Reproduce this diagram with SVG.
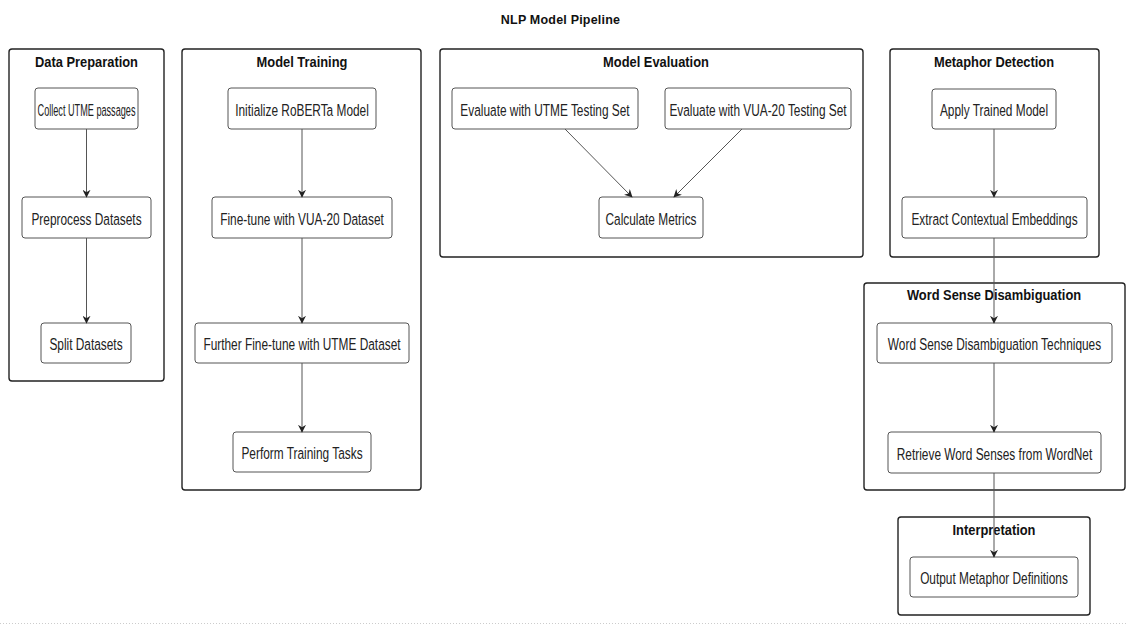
<svg xmlns="http://www.w3.org/2000/svg" width="1127" height="628" viewBox="0 0 1127 628">
  <style>
    .cluster { fill: #ffffff; stroke: #222222; stroke-width: 1.4; }
    .node { fill: #ffffff; stroke: #555555; stroke-width: 1; }
    .ctitle { font-family: "Liberation Sans", Arial, sans-serif; font-size: 14px; font-weight: bold; fill: #111111; text-anchor: middle; }
    .label { font-family: "Liberation Sans", Arial, sans-serif; font-size: 16.5px; fill: #222222; text-anchor: middle; }
    .edge { fill: none; stroke: #555555; stroke-width: 1; }
  </style>
  <defs>
    <marker id="arrow" viewBox="0 0 10 10" refX="9" refY="5" markerWidth="8" markerHeight="8" markerUnits="userSpaceOnUse" orient="auto">
      <path d="M0,0 L10,5 L0,10 L3,5 Z" fill="#222222"/>
    </marker>
  </defs>
  <rect width="1127" height="628" fill="#ffffff"/>

  <text x="560.5" y="24" class="ctitle" style="font-size:12.5px; letter-spacing:0.2px">NLP Model Pipeline</text>

  <!-- clusters -->
  <g id="cluster-data-preparation">
    <rect class="cluster" x="9" y="49" width="155" height="332" rx="3"/>
    <text class="ctitle" transform="translate(86.5,66.5) scale(0.92,1)">Data Preparation</text>
  </g>
  <g id="cluster-model-training">
    <rect class="cluster" x="182" y="49" width="239" height="441" rx="3"/>
    <text class="ctitle" transform="translate(302,66.5) scale(0.92,1)">Model Training</text>
  </g>
  <g id="cluster-model-evaluation">
    <rect class="cluster" x="440" y="49" width="423" height="208" rx="3"/>
    <text class="ctitle" transform="translate(656,66.5) scale(0.92,1)">Model Evaluation</text>
  </g>
  <g id="cluster-metaphor-detection">
    <rect class="cluster" x="890" y="49" width="209" height="208" rx="3"/>
    <text class="ctitle" transform="translate(994,66.5) scale(0.92,1)">Metaphor Detection</text>
  </g>
  <g id="cluster-wsd">
    <rect class="cluster" x="864" y="283" width="261" height="207" rx="3"/>
    <text class="ctitle" transform="translate(994,300) scale(0.92,1)">Word Sense Disambiguation</text>
  </g>
  <g id="cluster-interpretation">
    <rect class="cluster" x="898" y="517" width="192" height="98" rx="3"/>
    <text class="ctitle" transform="translate(994,535) scale(0.92,1)">Interpretation</text>
  </g>

  <!-- nodes -->
  <g id="collect">
    <rect class="node" x="35" y="88" width="103" height="41" rx="3"/>
    <text class="label" transform="translate(86.5,115.5) scale(0.72,1)" textLength="136" lengthAdjust="spacingAndGlyphs">Collect UTME passages</text>
  </g>
  <g id="preprocess">
    <rect class="node" x="22" y="197" width="129" height="41" rx="3"/>
    <text class="label" transform="translate(86.5,224.5) scale(0.72,1)">Preprocess Datasets</text>
  </g>
  <g id="split">
    <rect class="node" x="41" y="323" width="90" height="40" rx="3"/>
    <text class="label" transform="translate(86,350) scale(0.72,1)">Split Datasets</text>
  </g>

  <g id="init-roberta">
    <rect class="node" x="228" y="88" width="148" height="41" rx="3"/>
    <text class="label" transform="translate(302,115.5) scale(0.72,1)">Initialize RoBERTa Model</text>
  </g>
  <g id="finetune-vua">
    <rect class="node" x="212" y="197" width="180" height="41" rx="3"/>
    <text class="label" transform="translate(302,224.5) scale(0.72,1)">Fine-tune with VUA-20 Dataset</text>
  </g>
  <g id="finetune-utme">
    <rect class="node" x="195" y="323" width="214" height="40" rx="3"/>
    <text class="label" transform="translate(302,350) scale(0.72,1)">Further Fine-tune with UTME Dataset</text>
  </g>
  <g id="training-tasks">
    <rect class="node" x="233" y="432" width="138" height="40" rx="3"/>
    <text class="label" transform="translate(302,459) scale(0.72,1)">Perform Training Tasks</text>
  </g>

  <g id="eval-utme">
    <rect class="node" x="452" y="88" width="186" height="41" rx="3"/>
    <text class="label" transform="translate(545,115.5) scale(0.72,1)">Evaluate with UTME Testing Set</text>
  </g>
  <g id="eval-vua">
    <rect class="node" x="665" y="88" width="186" height="41" rx="3"/>
    <text class="label" transform="translate(758,115.5) scale(0.72,1)">Evaluate with VUA-20 Testing Set</text>
  </g>
  <g id="metrics">
    <rect class="node" x="599" y="197" width="104" height="41" rx="3"/>
    <text class="label" transform="translate(651,224.5) scale(0.72,1)">Calculate Metrics</text>
  </g>

  <g id="apply-model">
    <rect class="node" x="932" y="89" width="124" height="40" rx="3"/>
    <text class="label" transform="translate(994,116) scale(0.72,1)">Apply Trained Model</text>
  </g>
  <g id="embeddings">
    <rect class="node" x="902" y="197" width="185" height="41" rx="3"/>
    <text class="label" transform="translate(994.5,224.5) scale(0.72,1)">Extract Contextual Embeddings</text>
  </g>

  <g id="wsd-techniques">
    <rect class="node" x="877" y="323" width="235" height="40" rx="3"/>
    <text class="label" transform="translate(994.5,350) scale(0.72,1)">Word Sense Disambiguation Techniques</text>
  </g>
  <g id="wordnet">
    <rect class="node" x="888" y="432" width="213" height="41" rx="3"/>
    <text class="label" transform="translate(994.5,459.5) scale(0.72,1)">Retrieve Word Senses from WordNet</text>
  </g>

  <g id="definitions">
    <rect class="node" x="910" y="557" width="168" height="40" rx="3"/>
    <text class="label" transform="translate(994,584) scale(0.72,1)">Output Metaphor Definitions</text>
  </g>

  <!-- connectors -->
  <g id="edges">
    <path class="edge" d="M86.5,129 L86.5,197" marker-end="url(#arrow)"/>
    <path class="edge" d="M86.5,238 L86.5,323" marker-end="url(#arrow)"/>
    <path class="edge" d="M302,129 L302,197" marker-end="url(#arrow)"/>
    <path class="edge" d="M302,238 L302,323" marker-end="url(#arrow)"/>
    <path class="edge" d="M302,363 L302,432" marker-end="url(#arrow)"/>
    <path class="edge" d="M565,129 L632,197" marker-end="url(#arrow)"/>
    <path class="edge" d="M742,129 L674,197" marker-end="url(#arrow)"/>
    <path class="edge" d="M994,129 L994,197" marker-end="url(#arrow)"/>
    <path class="edge" d="M994,238 L994,323" marker-end="url(#arrow)"/>
    <path class="edge" d="M994,363 L994,432" marker-end="url(#arrow)"/>
    <path class="edge" d="M994,473 L994,557" marker-end="url(#arrow)"/>
  </g>

  <!-- page edge -->
  <line x1="0" y1="623.5" x2="1127" y2="623.5" stroke="#cccccc" stroke-width="1" stroke-dasharray="1 2"/>
</svg>
